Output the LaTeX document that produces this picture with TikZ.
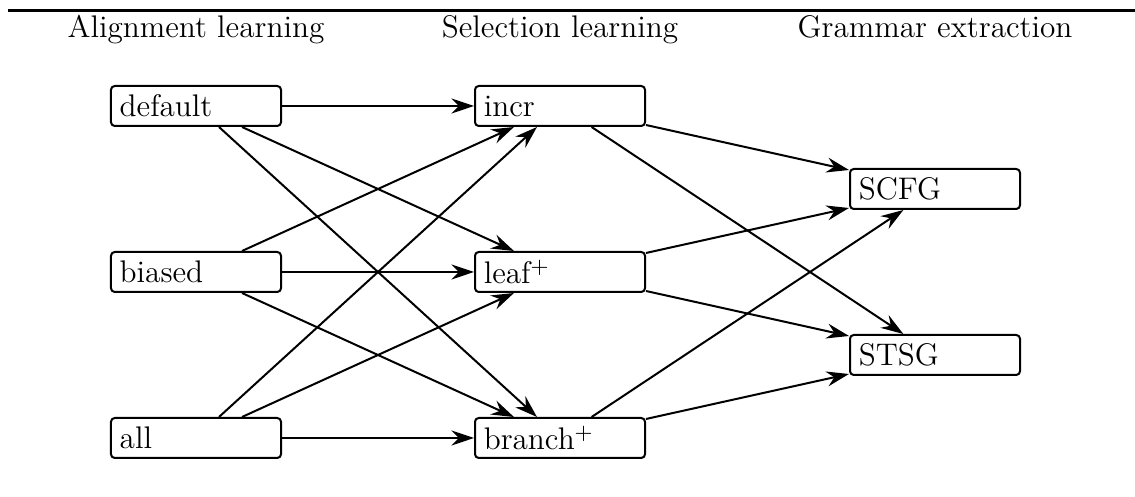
\documentclass[tikz,border=0pt]{standalone}
\usetikzlibrary{arrows.meta}
\begin{document}
\begin{tikzpicture}[x=0.4pt,y=-0.4pt,
  font=\fontsize{12.5}{15}\selectfont,
  box/.style={draw, line width=0.8pt, rounded corners=1.5pt,
    minimum width=68pt, minimum height=16pt, inner xsep=3.5pt, inner ysep=2pt,
    text width=61pt, align=left},
  conn/.style={-{Stealth[length=9pt,width=6pt,inset=3pt]}, line width=0.8pt},
  header/.style={anchor=base}]
\useasboundingbox (0,0) rectangle (1135,497);
\coordinate (ruleL) at (8,10.5);
\coordinate (ruleR) at (1135,10.5);
\draw[line width=0.9pt] (ruleL) -- (ruleR);
\node[header] (h1) at (196,38) {Alignment learning};
\node[header] (h2) at (560,38) {Selection learning};
\node[header] (h3) at (935,38) {Grammar extraction};
\node[box] (default) at (196,106) {default};
\node[box] (biased) at (196,272) {biased};
\node[box] (all) at (196,438) {all};
\node[box] (incr) at (560,106) {incr};
\node[box] (leaf) at (560,272) {leaf$^+$};
\node[box] (branch) at (560,438) {branch$^+$};
\node[box] (scfg) at (935,189) {SCFG};
\node[box] (stsg) at (935,355) {STSG};
\foreach \a in {default,biased,all}
  \foreach \b in {incr,leaf,branch}
    \draw[conn] (\a) -- (\b);
\foreach \a in {incr,leaf,branch}
  \foreach \b in {scfg,stsg}
    \draw[conn] (\a) -- (\b);
\end{tikzpicture}
\end{document}
